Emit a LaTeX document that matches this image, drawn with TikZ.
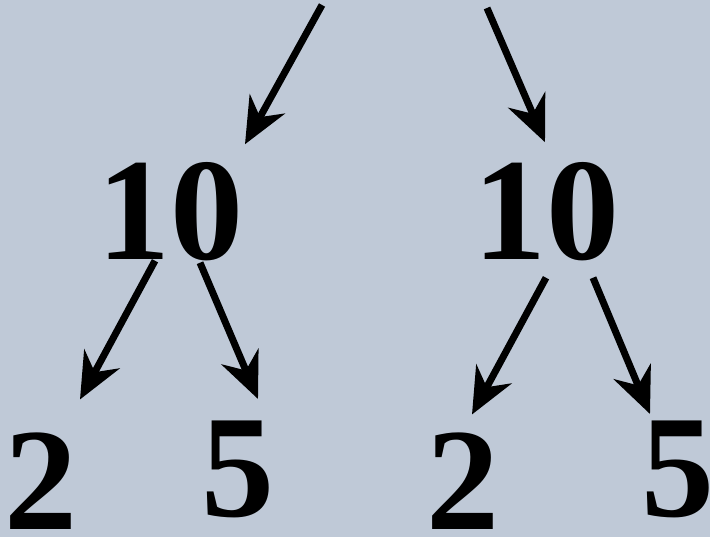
\documentclass[tikz,border=0pt]{standalone}
\usepackage{fontspec}
\setmainfont{Liberation Serif}
\usetikzlibrary{arrows.meta,calc,positioning}
\definecolor{paleslate}{HTML}{BFC9D7}

\begin{document}
\begin{tikzpicture}[
    x=1pt, y=1pt,
    num/.style={inner sep=0pt, text depth=0pt, font=\fontsize{146}{146}\selectfont\bfseries},
    link/.style={black, line width=7pt, -{Stealth[length=46pt, width=40pt, inset=15pt]}}
]

% -------- canvas --------
\fill[paleslate] (0,0) rectangle (710,537);
\useasboundingbox (0,0) rectangle (710,537);

% -------- numbers --------
\node[num] (tenL)  at (170,326) {10};
\node[num] (tenR)  at (546,326) {10};
\node[num] (twoL)  at (41,56)   {2};
\node[num] (fiveL) at (238,68)  {5};
\node[num] (twoR)  at (463,56)  {2};
\node[num] (fiveR) at (678,68)  {5};

% incoming arrows from above
\coordinate (inL) at (322,532);
\coordinate (inR) at (487,529);
\draw[link] (inL) -- ($(tenL.north)+(75,18)$);
\draw[link] (inR) -- ($(tenR.north)+(-1,20)$);

% -------- splits --------
\draw[link] ($(tenL.south)+(-15,-1)$) -- ($(twoL.north)+(39,33)$);
\draw[link] ($(tenL.south)+(30,-3)$)  -- ($(fiveL.north)+(20,22)$);
\draw[link] ($(tenR.south)+(0,-18)$)  -- ($(twoR.north)+(9,18)$);
\draw[link] ($(tenR.south)+(47,-18)$) -- ($(fiveR.north)+(-28,7)$);

\end{tikzpicture}
\end{document}
